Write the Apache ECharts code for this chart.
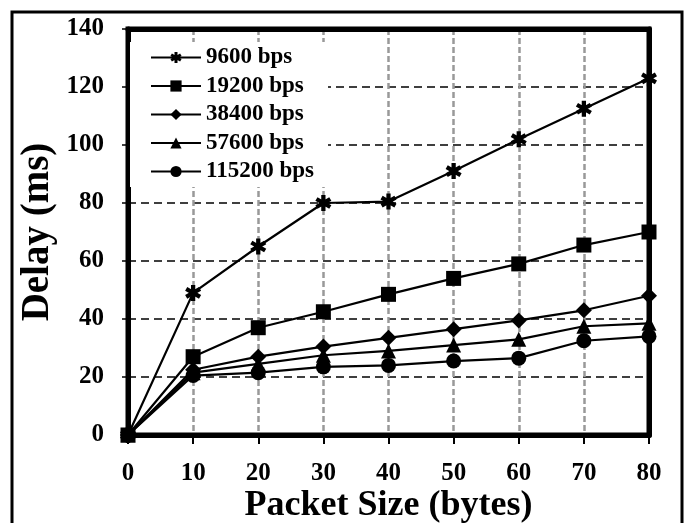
<!DOCTYPE html>
<html>
<head>
<meta charset="utf-8">
<script src="https://cdn.jsdelivr.net/npm/echarts@6/dist/echarts.min.js"></script>
<style>
html,body{margin:0;padding:0;background:#fff;}
#chart{width:689px;height:523px;}
</style>
</head>
<body>
<div id="chart"></div>
<script>
var packetSizes = [0, 10, 20, 30, 40, 50, 60, 70, 80];
var seriesNames = ['9600 bps', '19200 bps', '38400 bps', '57600 bps', '115200 bps'];
var delay9600   = [0, 49, 65, 80, 80.5, 91, 102, 112.5, 123];
var delay19200  = [0, 27, 37, 42.5, 48.5, 54, 59, 65.5, 70];
var delay38400  = [0, 22.5, 27, 30.5, 33.5, 36.5, 39.5, 43, 48];
var delay57600  = [0, 21.5, 24.5, 27.5, 29, 31, 33, 37.5, 38.5];
var delay115200 = [0, 20.5, 21.5, 23.5, 24, 25.5, 26.5, 32.5, 34];
var yTicks = [0, 20, 40, 60, 80, 100, 120, 140];

var FONT = '"Liberation Serif", "Times New Roman", serif';
var asterisk = 'path://M4.396,4.386L5.996,1.614L-4.396,-4.386L-5.996,-1.614Z' +
  'M-5.996,1.614L-4.396,4.386L5.996,-1.614L4.396,-4.386Z' +
  'M-1.6,-6L-1.6,6L1.6,6L1.6,-6Z';

function pairs(vals) {
  return packetSizes.map(function (x, i) { return [x, vals[i]]; });
}

var allData = [delay9600, delay19200, delay38400, delay57600, delay115200];
var symbols = [asterisk, 'rect', 'diamond', 'triangle', 'circle'];
var sizes = [16, 15, 16, 15, 15];

var series = seriesNames.map(function (name, i) {
  return {
    name: name,
    type: 'line',
    data: pairs(allData[i]),
    symbol: symbols[i],
    symbolSize: sizes[i],
    itemStyle: { color: '#000' },
    lineStyle: { color: '#000', width: 2.2 },
    z: 3
  };
});

var chart = echarts.init(document.getElementById('chart'), null, { renderer: 'canvas' });
chart.setOption({
  animation: false,
  backgroundColor: '#fff',
  graphic: [{
    type: 'rect',
    shape: { x: 12, y: 12, width: 670, height: 540 },
    style: { fill: 'none', stroke: '#000', lineWidth: 3 },
    z: 10
  }],
  grid: {
    left: 128, top: 29, right: 40, bottom: 88,
    outerBoundsMode: 'none', containLabel: false,
    show: true, borderColor: '#000', borderWidth: 5, backgroundColor: 'transparent'
  },
  legend: {
    orient: 'vertical',
    left: 130, top: 42,
    padding: [4, 14, 4, 20],
    itemWidth: 50, itemHeight: 14, itemGap: 5.5,
    backgroundColor: '#fff',
    data: seriesNames,
    textStyle: { fontFamily: FONT, fontWeight: 'bold', fontSize: 23, color: '#000', lineHeight: 22 }
  },
  xAxis: [{
    type: 'value', min: 0, max: 80, interval: 10,
    name: 'Packet Size (bytes)', nameLocation: 'middle', nameGap: 53, nameMoveOverlap: false,
    nameTextStyle: { fontFamily: FONT, fontWeight: 'bold', fontSize: 36, color: '#000', lineHeight: 36 },
    axisLine: { show: true, onZero: false, lineStyle: { color: '#000', width: 5 } },
    axisTick: { show: true, length: 9, lineStyle: { color: '#000', width: 2 } },
    axisLabel: { margin: 26, fontFamily: FONT, fontWeight: 'bold', fontSize: 25, color: '#000' },
    splitLine: { show: true, showMinLine: false, showMaxLine: false, lineStyle: { color: '#999', width: 2.5, type: [6, 3] } }
  }, {
    type: 'value', position: 'top', min: 0, max: 80, interval: 10,
    axisLine: { show: true, onZero: false, lineStyle: { color: '#000', width: 5 } },
    axisTick: { show: false }, axisLabel: { show: false }, splitLine: { show: false }
  }],
  yAxis: [{
    type: 'value', min: 0, max: 140, interval: 20,
    name: 'Delay (ms)', nameLocation: 'middle', nameGap: 71, nameRotate: 90, nameMoveOverlap: false,
    nameTextStyle: { fontFamily: FONT, fontWeight: 'bold', fontSize: 39, color: '#000' },
    axisLine: { show: true, onZero: false, lineStyle: { color: '#000', width: 5 } },
    axisTick: { show: true, length: 6, lineStyle: { color: '#000', width: 1.5 } },
    axisLabel: {
      margin: 24, fontFamily: FONT, fontWeight: 'bold', fontSize: 25, color: '#000',
      formatter: function (v) { return yTicks.indexOf(v) >= 0 ? String(v) : ''; }
    },
    splitLine: { show: true, showMinLine: false, showMaxLine: false, lineStyle: { color: '#000', width: 1.5, type: [8, 5] } }
  }, {
    type: 'value', position: 'right', min: 0, max: 140, interval: 20,
    axisLine: { show: true, onZero: false, lineStyle: { color: '#000', width: 5 } },
    axisTick: { show: false }, axisLabel: { show: false }, splitLine: { show: false }
  }],
  series: series
});
</script>
</body>
</html>
